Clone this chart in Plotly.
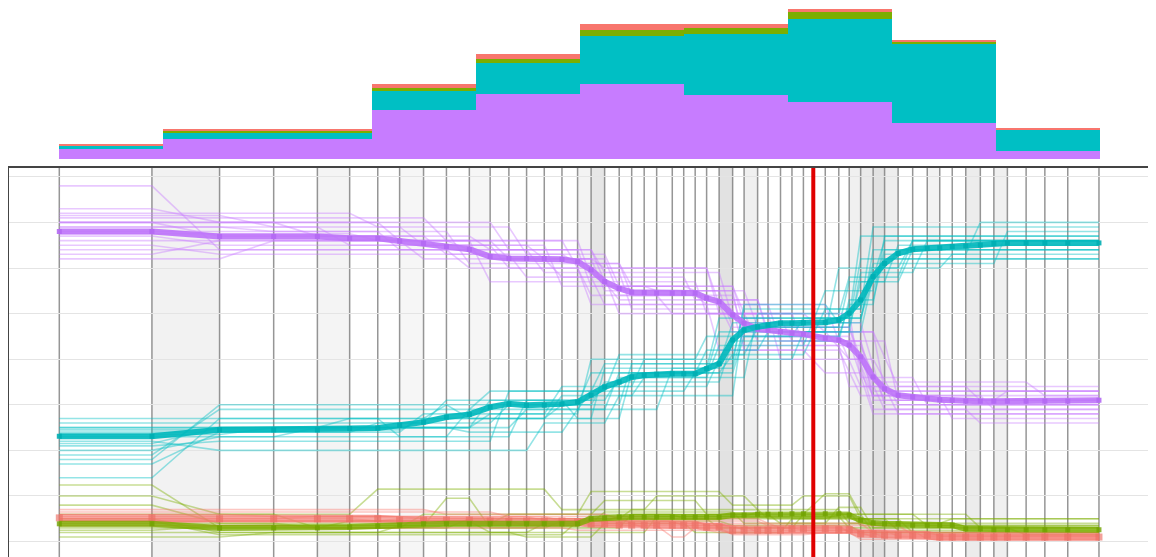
import plotly.graph_objects as go

# ---------------- data ----------------
# time of each vertical grid line (bin units)
T = [0.00, 0.89, 1.54, 2.06, 2.48, 2.79, 3.06, 3.27, 3.50, 3.72, 3.94, 4.14, 4.32, 4.49,
     4.66, 4.83, 4.98, 5.11, 5.24, 5.38, 5.50, 5.62, 5.74, 5.89, 6.00, 6.11, 6.22, 6.34,
     6.47, 6.58, 6.71, 6.81, 6.93, 7.04, 7.15, 7.36, 7.49, 7.59, 7.70, 7.82, 7.93, 8.06,
     8.20, 8.34, 8.46, 8.58, 8.71, 8.85, 8.98, 9.11, 9.29, 9.47, 9.69, 9.99]
EVENT_T = 7.245

# histogram (top panel), 10 bins
BIN_CENTERS = [0.5, 1.5, 2.5, 3.5, 4.5, 5.5, 6.5, 7.5, 8.5, 9.5]
HIST_PURPLE = [10.0, 20.0, 20.0, 49.3, 65.3, 75.3, 64.3, 57.3, 36.7, 8.7]
HIST_CYAN = [3.3, 7.0, 7.0, 19.0, 30.7, 48.0, 61.0, 83.0, 78.3, 20.7]
HIST_GREEN = [0.7, 1.3, 1.3, 3.3, 4.0, 6.0, 6.0, 7.3, 3.0, 0.7]
HIST_RED = [1.0, 1.7, 1.7, 3.4, 5.0, 6.0, 3.7, 2.7, 1.6, 0.6]

# median shares at each grid line
PURPLE_MED = [0.680, 0.680, 0.669, 0.669, 0.669, 0.665, 0.665, 0.659, 0.654, 0.647,
              0.641, 0.625, 0.621, 0.621, 0.621, 0.619, 0.614, 0.596, 0.570, 0.555,
              0.547, 0.546, 0.545, 0.545, 0.545, 0.545, 0.534, 0.526, 0.497, 0.479,
              0.466, 0.464, 0.460, 0.457, 0.455, 0.446, 0.442, 0.431, 0.405, 0.361,
              0.335, 0.321, 0.317, 0.313, 0.311, 0.310, 0.308, 0.308, 0.308, 0.308,
              0.308, 0.308, 0.308, 0.310]
CYAN_MED = [0.231, 0.231, 0.245, 0.245, 0.245, 0.248, 0.249, 0.255, 0.262, 0.273,
            0.279, 0.295, 0.302, 0.299, 0.299, 0.302, 0.306, 0.321, 0.339, 0.350,
            0.361, 0.365, 0.367, 0.368, 0.368, 0.368, 0.379, 0.390, 0.442, 0.464,
            0.471, 0.475, 0.479, 0.479, 0.480, 0.481, 0.486, 0.501, 0.530, 0.581,
            0.610, 0.632, 0.641, 0.643, 0.644, 0.647, 0.648, 0.650, 0.654, 0.655,
            0.655, 0.655, 0.655, 0.655]
GREEN_MED = [0.039, 0.039, 0.030, 0.030, 0.030, 0.032, 0.034, 0.036, 0.039, 0.039,
             0.039, 0.039, 0.039, 0.039, 0.039, 0.039, 0.039, 0.050, 0.052, 0.054,
             0.054, 0.054, 0.054, 0.054, 0.054, 0.054, 0.054, 0.054, 0.058, 0.058,
             0.060, 0.060, 0.060, 0.061, 0.061, 0.061, 0.061, 0.058, 0.047, 0.041,
             0.039, 0.039, 0.036, 0.036, 0.036, 0.036, 0.028, 0.028, 0.026, 0.026,
             0.026, 0.026, 0.026, 0.026]
RED_MED = [0.052, 0.052, 0.050, 0.050, 0.050, 0.050, 0.050, 0.047, 0.047, 0.047,
           0.047, 0.045, 0.045, 0.045, 0.045, 0.045, 0.043, 0.039, 0.039, 0.036,
           0.036, 0.036, 0.036, 0.036, 0.036, 0.036, 0.032, 0.032, 0.025, 0.025,
           0.025, 0.025, 0.025, 0.028, 0.028, 0.028, 0.026, 0.026, 0.017, 0.017,
           0.014, 0.014, 0.014, 0.014, 0.010, 0.010, 0.010, 0.010, 0.010, 0.010,
           0.010, 0.010, 0.010, 0.010]

# individual runs: [grid-line index, share] break points
PURPLE_RUNS = [
    [[0, .78], [1, .78], [2, .64], [10, .64], [11, .62], [17, .62], [18, .55], [27, .55], [28, .47], [37, .47], [39, .33], [53, .33]],
    [[0, .73], [1, .73], [2, .70], [6, .70], [7, .66], [15, .66], [16, .60], [26, .60], [27, .52], [35, .52], [36, .44], [38, .44], [39, .31], [53, .31]],
    [[0, .72], [5, .72], [6, .69], [12, .69], [13, .63], [18, .63], [19, .56], [28, .56], [29, .48], [38, .48], [40, .30], [53, .30]],
    [[0, .71], [8, .71], [9, .66], [16, .66], [17, .58], [24, .58], [25, .53], [30, .53], [31, .45], [37, .45], [39, .32], [47, .32], [48, .29], [53, .29]],
    [[0, .70], [3, .70], [4, .67], [10, .67], [11, .64], [17, .64], [18, .57], [25, .57], [26, .50], [33, .50], [34, .43], [38, .43], [40, .31], [53, .31]],
    [[0, .69], [2, .69], [3, .68], [9, .68], [10, .61], [19, .61], [20, .54], [28, .54], [29, .45], [36, .45], [38, .34], [46, .34], [47, .31], [53, .31]],
    [[0, .67], [1, .67], [2, .65], [11, .65], [12, .60], [16, .60], [17, .52], [27, .52], [28, .46], [35, .46], [37, .40], [38, .40], [40, .29], [53, .29]],
    [[0, .66], [7, .66], [8, .62], [14, .62], [15, .58], [18, .58], [19, .50], [29, .50], [30, .44], [37, .44], [39, .28], [53, .28]],
    [[0, .65], [1, .65], [2, .63], [12, .63], [13, .58], [17, .58], [18, .52], [26, .52], [27, .42], [36, .42], [38, .32], [44, .32], [45, .27], [53, .27]],
    [[0, .64], [9, .64], [10, .60], [16, .60], [17, .54], [22, .54], [23, .50], [31, .50], [32, .40], [39, .40], [41, .30], [53, .30]],
    [[0, .68], [6, .68], [7, .64], [13, .64], [14, .59], [19, .59], [20, .51], [28, .51], [29, .42], [34, .42], [35, .37], [38, .37], [39, .32], [53, .32]],
    [[0, .62], [2, .62], [3, .66], [10, .66], [11, .57], [18, .57], [19, .53], [30, .53], [31, .46], [39, .46], [41, .34], [53, .34]],
    [[0, .70], [11, .70], [12, .64], [17, .64], [18, .59], [27, .59], [28, .49], [32, .49], [33, .44], [40, .44], [41, .31], [48, .31], [49, .33], [53, .33]],
    [[0, .69], [4, .69], [5, .65], [14, .65], [15, .56], [21, .56], [22, .55], [29, .55], [30, .47], [37, .47], [39, .29], [46, .29], [47, .26], [53, .26]],
    [[0, .715], [2, .715], [3, .69], [7, .69], [8, .65], [13, .65], [14, .62], [17, .62], [18, .60], [26, .60], [27, .50], [34, .50], [35, .46], [39, .46], [40, .33], [53, .33]],
    [[0, .70], [1, .70], [2, .67], [8, .67], [9, .63], [15, .63], [16, .61], [19, .61], [20, .56], [28, .56], [29, .50], [37, .50], [38, .36], [42, .36], [43, .30], [53, .30]],
    [[0, .675], [5, .675], [6, .66], [11, .66], [12, .62], [18, .62], [19, .54], [25, .54], [26, .52], [31, .52], [32, .44], [38, .44], [39, .35], [50, .35], [51, .32], [53, .32]],
    [[0, .63], [1, .63], [2, .66], [9, .66], [10, .64], [16, .64], [17, .56], [24, .56], [25, .55], [28, .55], [29, .43], [36, .43], [37, .34], [40, .34], [41, .28], [53, .28]],
]
CYAN_RUNS = [
    [[0, .14], [1, .14], [2, .27], [8, .27], [9, .30], [16, .30], [17, .37], [26, .37], [27, .46], [35, .46], [36, .60], [41, .60], [42, .66], [53, .66]],
    [[0, .19], [1, .19], [2, .29], [10, .29], [11, .33], [17, .33], [18, .39], [27, .39], [28, .48], [37, .48], [38, .62], [53, .62]],
    [[0, .17], [1, .17], [2, .24], [7, .24], [8, .28], [14, .28], [15, .34], [20, .34], [21, .40], [28, .40], [29, .51], [38, .51], [39, .69], [53, .69]],
    [[0, .27], [6, .27], [7, .23], [12, .23], [13, .31], [18, .31], [19, .36], [26, .36], [27, .43], [34, .43], [35, .55], [39, .55], [40, .64], [53, .64]],
    [[0, .25], [9, .25], [10, .24], [15, .24], [16, .29], [22, .29], [23, .38], [28, .38], [29, .47], [37, .47], [38, .57], [40, .57], [41, .65], [53, .65]],
    [[0, .24], [5, .24], [6, .26], [11, .26], [12, .30], [17, .30], [18, .35], [27, .35], [28, .44], [36, .44], [37, .53], [39, .53], [40, .63], [46, .63], [47, .70], [53, .70]],
    [[0, .23], [3, .23], [4, .25], [10, .25], [11, .28], [16, .28], [17, .40], [25, .40], [26, .45], [33, .45], [34, .49], [37, .49], [38, .67], [53, .67]],
    [[0, .22], [1, .22], [2, .20], [13, .20], [14, .26], [18, .26], [19, .32], [28, .32], [29, .49], [38, .49], [39, .60], [44, .60], [45, .63], [53, .63]],
    [[0, .26], [8, .26], [9, .31], [15, .31], [16, .27], [19, .27], [20, .37], [27, .37], [28, .41], [34, .41], [35, .51], [38, .51], [39, .61], [48, .61], [49, .68], [53, .68]],
    [[0, .21], [1, .21], [2, .22], [11, .22], [12, .33], [18, .33], [19, .41], [29, .41], [30, .47], [36, .47], [37, .57], [41, .57], [42, .64], [53, .64]],
    [[0, .18], [1, .18], [2, .30], [9, .30], [10, .27], [17, .27], [18, .38], [26, .38], [27, .49], [38, .49], [40, .66], [53, .66]],
    [[0, .25], [4, .25], [5, .27], [14, .27], [15, .32], [20, .32], [21, .36], [29, .36], [30, .50], [36, .50], [37, .58], [39, .58], [40, .62], [53, .62]],
    [[0, .235], [2, .235], [3, .25], [10, .25], [11, .31], [17, .31], [18, .34], [26, .34], [27, .40], [33, .40], [34, .46], [37, .46], [38, .59], [42, .59], [43, .66], [53, .66]],
    [[0, .215], [1, .215], [2, .25], [12, .25], [13, .29], [16, .29], [17, .33], [24, .33], [25, .37], [28, .37], [29, .45], [36, .45], [37, .52], [39, .52], [40, .67], [53, .67]],
    [[0, .245], [7, .245], [8, .27], [14, .27], [15, .30], [19, .30], [20, .39], [28, .39], [29, .52], [35, .52], [36, .48], [38, .48], [39, .64], [53, .64]],
    [[0, .20], [1, .20], [2, .23], [9, .23], [10, .29], [18, .29], [19, .37], [25, .37], [26, .42], [30, .42], [31, .46], [38, .46], [39, .58], [41, .58], [42, .66], [53, .66]],
]
GREEN_RUNS = [
    [[0, .124], [1, .124], [2, .03], [7, .03], [8, .06], [16, .06], [17, .11], [27, .11], [28, .08], [33, .08], [34, .10], [37, .10], [38, .05], [53, .05]],
    [[0, .10], [1, .10], [2, .06], [5, .06], [6, .115], [14, .115], [15, .07], [21, .07], [22, .10], [29, .10], [30, .07], [36, .07], [37, .04], [53, .04]],
    [[0, .08], [1, .08], [2, .04], [11, .04], [12, .06], [17, .06], [18, .09], [25, .09], [26, .06], [34, .06], [35, .105], [37, .105], [38, .06], [46, .06], [47, .03], [53, .03]],
    [[0, .06], [3, .06], [4, .03], [9, .03], [10, .05], [19, .05], [20, .07], [30, .07], [31, .05], [40, .05], [41, .025], [53, .025]],
    [[0, .05], [1, .05], [2, .02], [13, .02], [14, .04], [17, .04], [18, .065], [28, .065], [29, .04], [35, .04], [36, .075], [38, .075], [39, .03], [53, .03]],
    [[0, .02], [6, .02], [7, .035], [16, .035], [17, .05], [26, .05], [27, .03], [33, .03], [34, .06], [42, .06], [43, .035], [53, .035]],
    [[0, .01], [2, .01], [3, .02], [12, .02], [13, .01], [17, .01], [18, .04], [24, .04], [25, .02], [32, .02], [33, .05], [41, .05], [42, .02], [53, .02]],
    [[0, .035], [8, .035], [9, .095], [10, .095], [11, .03], [19, .03], [20, .06], [31, .06], [32, .04], [44, .04], [45, .05], [53, .05]],
    [[0, .045], [1, .045], [2, .015], [15, .015], [16, .045], [27, .045], [28, .035], [37, .035], [38, .02], [53, .02]],
    [[0, .03], [4, .03], [5, .045], [10, .045], [11, .02], [21, .02], [22, .055], [36, .055], [37, .03], [49, .03], [50, .015], [53, .015]],
    [[0, .04], [3, .04], [4, .03], [14, .03], [15, .045], [18, .045], [19, .055], [29, .055], [30, .065], [37, .065], [38, .035], [53, .035]],
    [[0, .025], [1, .025], [2, .035], [16, .035], [17, .06], [23, .06], [24, .05], [35, .05], [36, .06], [38, .06], [39, .02], [53, .02]],
]
RED_RUNS = [
    [[0, .07], [8, .07], [9, .06], [18, .06], [19, .05], [30, .05], [31, .04], [38, .04], [39, .02], [53, .02]],
    [[0, .06], [2, .06], [3, .055], [14, .055], [15, .045], [25, .045], [26, .035], [36, .035], [37, .02], [53, .02]],
    [[0, .05], [5, .05], [6, .045], [16, .045], [17, .035], [28, .035], [29, .025], [40, .025], [41, .012], [53, .012]],
    [[0, .045], [10, .045], [11, .04], [20, .04], [21, .03], [27, .03], [28, .015], [34, .015], [35, .02], [39, .02], [40, .008], [53, .008]],
    [[0, .04], [1, .04], [2, .045], [12, .045], [13, .035], [22, .035], [23, .01], [24, .01], [25, .03], [33, .03], [34, .025], [42, .025], [43, .005], [53, .005]],
    [[0, .055], [7, .055], [8, .05], [19, .05], [20, .04], [31, .04], [32, .03], [37, .03], [38, .015], [53, .015]],
    [[0, .035], [3, .035], [4, .03], [15, .03], [16, .025], [26, .025], [27, .02], [37, .02], [38, .005], [53, .005]],
    [[0, .065], [11, .065], [12, .055], [21, .055], [22, .045], [30, .045], [31, .035], [41, .035], [42, .015], [53, .015]],
    [[0, .05], [3, .05], [4, .055], [13, .055], [14, .045], [23, .045], [24, .035], [29, .035], [30, .02], [38, .02], [39, .01], [53, .01]],
    [[0, .045], [6, .045], [7, .05], [17, .05], [18, .04], [27, .04], [28, .03], [36, .03], [37, .022], [43, .022], [44, .012], [53, .012]],
]

# shaded intervals between grid lines: (from index, to index, grey level)
BANDS = [(1, 2, 242), (4, 5, 244), (7, 8, 246), (10, 11, 246), (16, 17, 243), (17, 18, 230),
         (27, 28, 226), (29, 30, 240), (37, 38, 240), (38, 39, 234), (39, 40, 226),
         (40, 41, 238), (43, 44, 242), (46, 47, 236), (48, 49, 240)]

# ---------------- figure ----------------
PURPLE, CYAN, GREEN, RED = "#c77cff", "#00bfc4", "#7cae00", "#f8766d"

# the page body keeps the browser's default 8px margin, so the figure is
# sized to fill the rest of the 1156x557 window
W, H = 1148, 549
PANEL_TOP = 159.0          # top of the lower panel, px from figure top
BAR_BASE = 151.3           # histogram baseline, px from figure top
LOW_DOM = (H - PANEL_TOP) / H

fig = go.Figure()

# top: stacked histogram
for vals, col in [(HIST_PURPLE, PURPLE), (HIST_CYAN, CYAN), (HIST_GREEN, GREEN), (HIST_RED, RED)]:
    fig.add_trace(go.Bar(x=BIN_CENTERS, y=vals, width=1.0, marker=dict(color=col, line=dict(width=0)),
                         xaxis="x", yaxis="y2", showlegend=False, hoverinfo="skip"))


def rgba(hexcol, a):
    h = hexcol.lstrip("#")
    return "rgba(%d,%d,%d,%.2f)" % (int(h[0:2], 16), int(h[2:4], 16), int(h[4:6], 16), a)


for runs, col in [(GREEN_RUNS, GREEN), (RED_RUNS, RED), (PURPLE_RUNS, PURPLE), (CYAN_RUNS, CYAN)]:
    for run in runs:
        fig.add_trace(go.Scatter(x=[T[i] for i, v in run], y=[v for i, v in run], mode="lines",
                                 line=dict(color=rgba(col, 0.42), width=1.6),
                                 xaxis="x", yaxis="y", showlegend=False, hoverinfo="skip"))

for med, lc, mc, w in [(RED_MED, "rgba(244,122,112,0.65)", "rgba(236,110,100,0.65)", 8),
                       (GREEN_MED, "rgba(124,174,0,0.8)", "rgba(112,162,0,0.8)", 6),
                       (PURPLE_MED, "rgba(190,115,250,0.9)", "rgba(180,105,243,0.9)", 6),
                       (CYAN_MED, "rgba(0,184,189,0.9)", "rgba(0,174,179,0.9)", 6)]:
    fig.add_trace(go.Scatter(x=T, y=med, mode="lines+markers",
                             line=dict(color=lc, width=w),
                             marker=dict(symbol="square", size=w - 1, color=mc, line=dict(width=0)),
                             xaxis="x", yaxis="y", showlegend=False, hoverinfo="skip"))

shapes = []
for a, b, g in BANDS:
    shapes.append(dict(type="rect", xref="x", yref="paper", x0=T[a], x1=T[b], y0=0, y1=LOW_DOM,
                       fillcolor="rgb(%d,%d,%d)" % (g, g, g), line=dict(width=0), layer="below"))
for t in T:
    shapes.append(dict(type="line", xref="x", yref="paper", x0=t, x1=t, y0=0, y1=LOW_DOM,
                       line=dict(color="rgba(115,115,115,0.75)", width=1.5), layer="below"))
shapes.append(dict(type="line", xref="x", yref="paper", x0=EVENT_T, x1=EVENT_T, y0=0, y1=LOW_DOM,
                   line=dict(color="#e00000", width=4), layer="above"))
# panel frame (left and top)
shapes.append(dict(type="line", xref="paper", yref="paper", x0=0, x1=0, y0=0, y1=LOW_DOM,
                   line=dict(color="#444444", width=2), layer="above"))
shapes.append(dict(type="line", xref="paper", yref="paper", x0=0, x1=1, y0=LOW_DOM, y1=LOW_DOM,
                   line=dict(color="#444444", width=2), layer="above"))

fig.update_layout(
    width=W, height=H, margin=dict(l=0, r=0, t=0, b=0, pad=0),
    paper_bgcolor="white", plot_bgcolor="rgba(0,0,0,0)",
    barmode="stack", bargap=0, showlegend=False,
    xaxis=dict(range=[-0.4929, 10.538], showgrid=False, zeroline=False, showticklabels=False,
               ticks="", anchor="y", domain=[0, 1]),
    yaxis=dict(domain=[0, LOW_DOM], range=[-0.0338, 0.8215], dtick=0.1, tick0=0,
               showgrid=True, gridcolor="#e4e4e4", gridwidth=1, zeroline=False,
               showticklabels=False, ticks=""),
    yaxis2=dict(domain=[(H - BAR_BASE) / H, 1], range=[0, BAR_BASE], showgrid=False, zeroline=False,
                showticklabels=False, ticks="", anchor="x"),
    shapes=shapes,
)

fig.write_html("out.html")
